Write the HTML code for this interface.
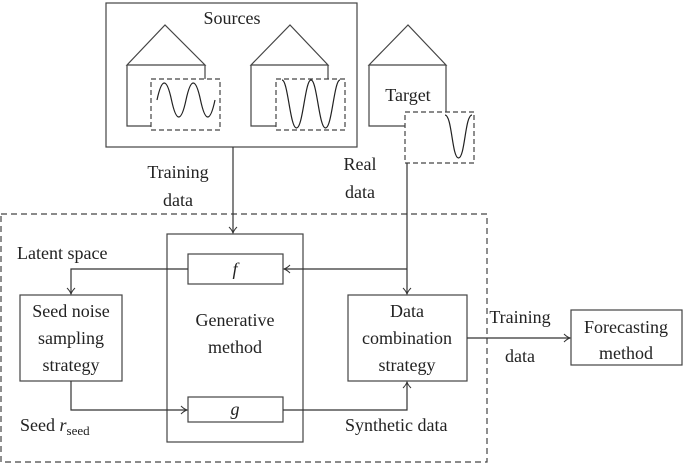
<!DOCTYPE html>
<html><head><meta charset="utf-8"><style>
body{margin:0;background:#fff}
svg{display:block}
text{font-family:"Liberation Serif",serif;font-size:18px;fill:#222}
</style></head><body>
<svg width="685" height="463" viewBox="0 0 685 463" xmlns="http://www.w3.org/2000/svg">
<defs>
<marker id="a" markerWidth="10" markerHeight="10" refX="8" refY="5" orient="auto" markerUnits="userSpaceOnUse">
<path d="M2,1 Q5,4 8,5 Q5,6 2,9" fill="none" stroke="#333" stroke-width="1"/>
</marker>
</defs>
<g fill="none" stroke="#444" stroke-width="1.2">
<rect x="106" y="3" width="251" height="144"/>
<path d="M127,65 L165,25 L205,65 Z M127,65 V126 H151 M205,65 V79"/>
<rect x="151" y="79" width="69" height="51" stroke-dasharray="5,3"/>
<path d="M157,100 q7.25,-34 14.5,0 t14.5,0 t14.5,0 t14.5,0" stroke="#222"/>
<path d="M251,65 L290,25 L328,65 Z M251,65 V126 H276 M328,65 V79"/>
<rect x="276" y="79" width="69" height="51" stroke-dasharray="5,3"/>
<path d="M282,80 C288,80 290,128 296.5,128 C303,128 305,80 311,80 C317,80 319,128 325.5,128 C332,128 334,80 340,80" stroke="#222"/>
<path d="M369,65 L408,25 L446,65 Z M369,65 V126 H405 M446,65 V112"/>
<rect x="405" y="112" width="69" height="51" stroke-dasharray="5,3"/>
<path d="M445,115 C452,115 452,158 458.5,158 C465,158 465,115 472,115" stroke="#222"/>
<rect x="1" y="214" width="486" height="248" stroke-dasharray="6,4"/>
<rect x="167" y="234" width="136" height="208"/>
<rect x="188" y="254" width="95" height="30"/>
<rect x="188" y="397" width="95" height="25"/>
<rect x="20" y="295" width="102" height="86"/>
<rect x="348" y="295" width="119" height="86"/>
<rect x="571" y="310" width="111" height="55"/>
</g>
<g fill="none" stroke="#333" stroke-width="1.2">
<path d="M233,147 V233" marker-end="url(#a)"/>
<path d="M407,163 V294" marker-end="url(#a)"/>
<path d="M407,269 H284" marker-end="url(#a)"/>
<path d="M188,269 H71 V294" marker-end="url(#a)"/>
<path d="M71,381 V410 H187" marker-end="url(#a)"/>
<path d="M283,410 H407 V382" marker-end="url(#a)"/>
<path d="M467,338 H570" marker-end="url(#a)"/>
</g>
<text x="232" y="24" text-anchor="middle">Sources</text>
<text x="408" y="101" text-anchor="middle">Target</text>
<text x="178" y="178" text-anchor="middle">Training</text>
<text x="178" y="206" text-anchor="middle">data</text>
<text x="360" y="170" text-anchor="middle">Real</text>
<text x="360" y="198" text-anchor="middle">data</text>
<text x="17" y="259">Latent space</text>
<text x="235" y="275" text-anchor="middle" font-style="italic">f</text>
<text x="235" y="415" text-anchor="middle" font-style="italic">g</text>
<text x="235" y="326" text-anchor="middle">Generative</text>
<text x="235" y="353" text-anchor="middle">method</text>
<text x="71" y="317" text-anchor="middle">Seed noise</text>
<text x="71" y="344" text-anchor="middle">sampling</text>
<text x="71" y="371" text-anchor="middle">strategy</text>
<text x="407" y="317" text-anchor="middle">Data</text>
<text x="407" y="344" text-anchor="middle">combination</text>
<text x="407" y="371" text-anchor="middle">strategy</text>
<text x="20" y="431">Seed <tspan font-style="italic">r</tspan><tspan font-size="13" dy="4">seed</tspan></text>
<text x="345" y="431">Synthetic data</text>
<text x="520" y="323" text-anchor="middle">Training</text>
<text x="520" y="362" text-anchor="middle">data</text>
<text x="626" y="333" text-anchor="middle">Forecasting</text>
<text x="626" y="359" text-anchor="middle">method</text>
</svg>
</body></html>
